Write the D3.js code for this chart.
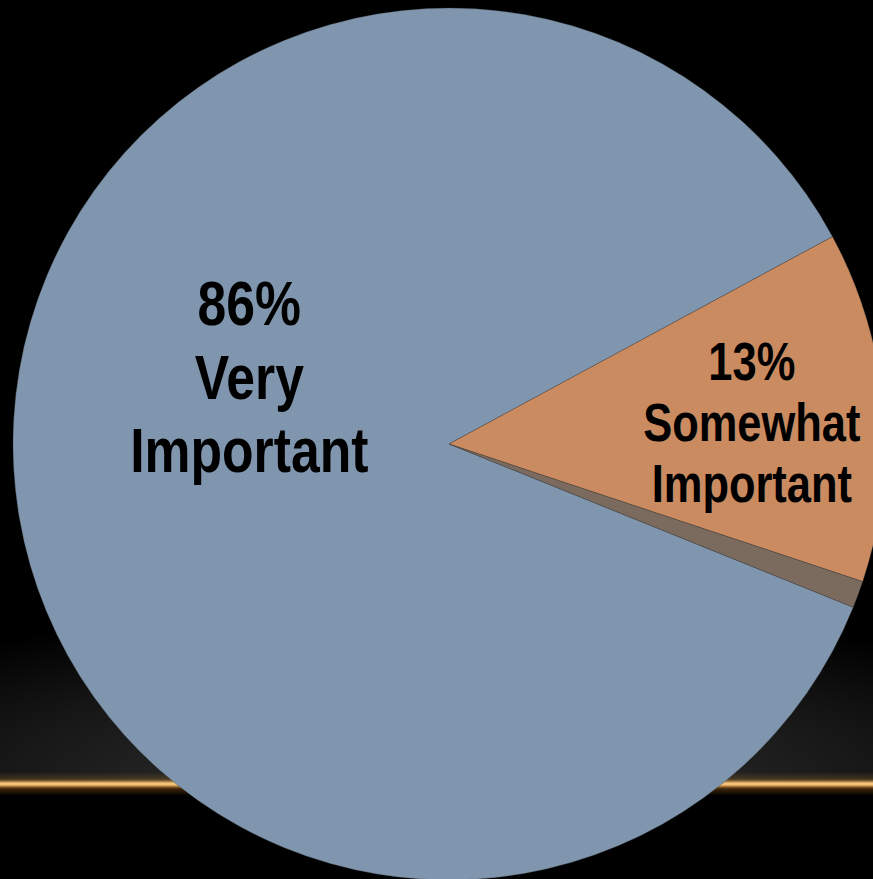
<!DOCTYPE html>
<style>
html, body { margin: 0; padding: 0; background: #000; }
svg { display: block; }
</style>
<svg width="873" height="879"></svg>
<script src="https://d3js.org/d3.v7.min.js"></script>
<script>
// data
const categories = ["Very Important", "Somewhat Important", "Not Important"];
const values = [86, 13, 1];
const labelLines = [["86%", "Very", "Important"], ["13%", "Somewhat", "Important"], []];

const colors = ["#7f96ae", "#cb8b61", "#7b6a5e"];

const svg = d3.select("svg"),
      width = +svg.attr("width"),
      height = +svg.attr("height"),
      cx = 449, cy = 444, radius = 436;

const defs = svg.append("defs");

// background glow above the gold rule
const glow = defs.append("radialGradient")
	.attr("id", "glow")
	.attr("gradientUnits", "userSpaceOnUse")
	.attr("cx", 436).attr("cy", 783).attr("r", 700)
	.attr("gradientTransform", "translate(0,783) scale(1,0.26) translate(0,-783)");
glow.append("stop").attr("offset", 0).attr("stop-color", "#2a2a2a");
glow.append("stop").attr("offset", 0.4).attr("stop-color", "#222");
glow.append("stop").attr("offset", 0.65).attr("stop-color", "#161616");
glow.append("stop").attr("offset", 1).attr("stop-color", "#000");

const rule = defs.append("linearGradient")
	.attr("id", "rule").attr("x1", 0).attr("y1", 0).attr("x2", 0).attr("y2", 1);
[[0, "rgba(190,130,50,0)"], [0.3, "rgba(190,130,50,0.25)"], [0.45, "#e9b56c"],
 [0.5, "#f7cf8e"], [0.56, "#e0a458"], [0.7, "rgba(140,85,25,0.45)"], [1, "rgba(120,70,20,0)"]]
	.forEach(([o, c]) => rule.append("stop").attr("offset", o).attr("stop-color", c));

svg.append("rect").attr("width", width).attr("height", height).attr("fill", "#000");
svg.append("rect").attr("y", 600).attr("width", width).attr("height", 183).attr("fill", "url(#glow)");
svg.append("rect").attr("y", 772).attr("width", width).attr("height", 24).attr("fill", "url(#rule)");

// pie
const pie = d3.pie()
	.sort(null)
	.startAngle(112 * Math.PI / 180)
	.endAngle(472 * Math.PI / 180);

const arc = d3.arc().innerRadius(0).outerRadius(radius);

const g = svg.append("g").attr("transform", `translate(${cx},${cy})`);

const arcs = pie(values);

g.selectAll("path")
	.data(arcs)
	.enter()
	.append("path")
	.attr("d", arc)
	.attr("fill", (d, i) => colors[i])
	.attr("stroke", "rgba(60,60,60,0.5)")
	.attr("stroke-width", 0.6);

// labels: anchor on a label arc, then lines stacked from the first baseline
const labelStyle = [
	{ r: 200, dy: -130, size: 63, lead: 73.5 },
	{ r: 304, dy: -37.5, size: 53, lead: 61 },
	{ r: 0, dy: 0, size: 0, lead: 0 }
];

arcs.forEach((d, i) => {
	const lines = labelLines[i];
	if (!lines.length) return;
	const s = labelStyle[i];
	const [x, y] = d3.arc().innerRadius(s.r).outerRadius(s.r).centroid(d);
	const t = g.append("g")
		.attr("transform", `translate(${x},${y + s.dy}) scale(0.82,1)`)
		.append("text")
		.attr("text-anchor", "middle")
		.style("font-family", "'Liberation Sans', Arial, sans-serif")
		.style("font-weight", "bold")
		.style("font-size", s.size + "px")
		.attr("fill", "#000");
	lines.forEach((line, j) => {
		t.append("tspan").attr("x", 0).attr("y", j * s.lead).text(line);
	});
});
</script>
